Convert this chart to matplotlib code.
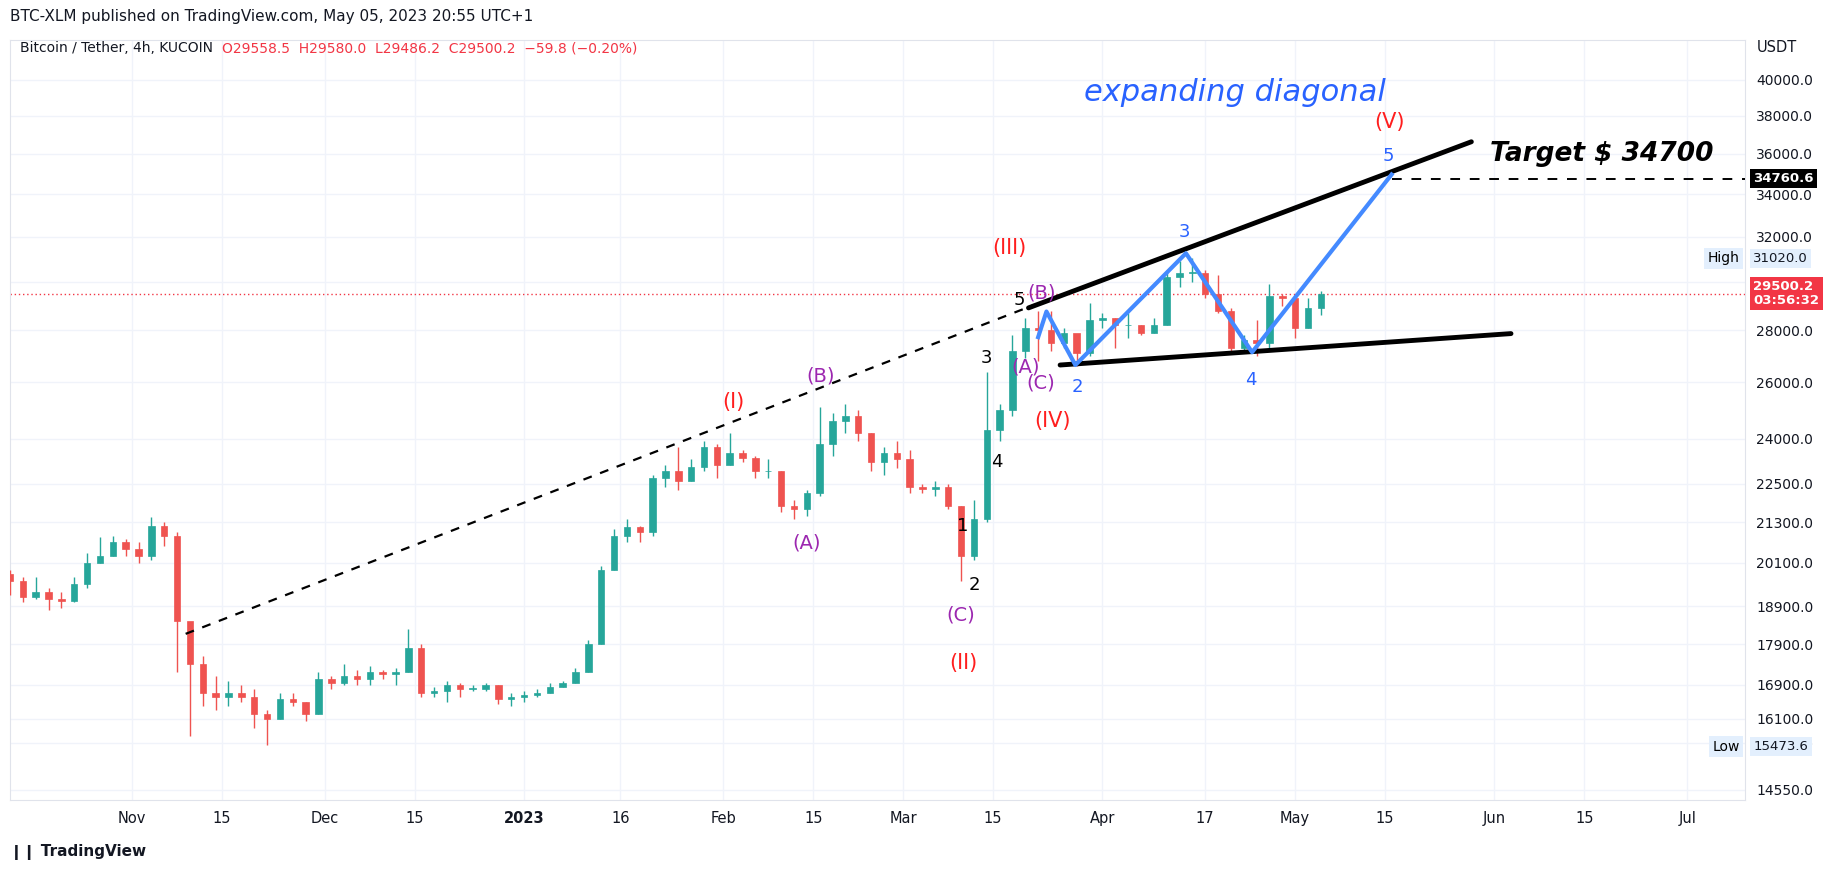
import numpy as np
import matplotlib
matplotlib.use("Agg")
import matplotlib.pyplot as plt
import matplotlib.dates as mdates
from datetime import datetime, timedelta

# ---------------- data ----------------
start_date = "2022-10-13"
step_days = 2
first_open = 19800
closes = [19600,19150,19300,19100,19050,19500,20100,20300,20700,20500,
          20300,21200,20900,18500,17400,16700,16600,16700,16600,16200,
          16100,16550,16500,16200,17050,16950,17100,17050,17200,17150,
          17200,17800,16700,16750,16900,16800,16800,16900,16550,16600,
          16650,16700,16850,16950,17200,17900,19900,20900,21150,21000,
          22700,22900,22600,23050,23700,23100,23500,23350,22900,22900,
          21800,21700,22200,23800,24600,24800,24200,23200,23500,23300,
          22400,22350,22400,21800,20300,21400,24300,25000,27200,28100,
          28000,27500,27900,27100,28400,28500,28200,28200,27900,28200,
          30200,30400,30400,29500,28800,27300,27600,27500,29400,29300,
          28100,28900,29500]
highs = [19900,19700,19700,19400,19300,19700,20400,20850,20900,20800,
         20700,21450,21300,21000,18150,17600,17100,17000,16900,16800,
         16300,16700,16700,16500,17200,17100,17400,17250,17350,17250,
         17300,18300,17900,16850,17000,16950,16900,16950,16900,16700,
         16750,16800,16950,17000,17300,18000,20000,21100,21400,21200,
         22800,23100,23700,23300,23900,23800,24200,23600,23400,23300,
         22900,22000,22300,25100,24900,25200,25000,24200,23700,23900,
         23600,22500,22600,22500,21800,22000,26400,25200,27800,28500,
         28800,28800,28100,27700,29100,28700,28500,28700,28200,28500,
         30500,30900,31020,30500,30300,28900,27800,28400,29900,29500,
         29500,29300,29600]
lows = [19200,19000,19100,18800,18850,19000,19400,20100,20300,20300,
        20100,20200,20600,17200,15700,16400,16300,16400,16500,15900,
        15500,16100,16400,16050,16200,16800,16900,16900,16900,17050,
        16900,17200,16600,16600,16500,16600,16750,16750,16450,16400,
        16500,16600,16700,16850,16950,17200,17900,19900,20700,20700,
        20900,22400,22300,22600,22900,22700,23100,23200,22700,22700,
        21600,21400,21500,22100,23400,24200,23900,22900,22800,23000,
        22200,22200,22100,21700,19600,20200,21300,23900,24800,26900,
        26800,27200,27300,26600,27000,28100,27300,27700,27800,27900,
        28200,29800,30000,29300,28700,27100,27200,27000,27200,29000,
        27700,28100,28600]

last_price = 29500.2
target_price = 34760.6
high_price = 31020.0
low_price = 15473.6

ytick_vals = [14550,15550,16100,16900,17900,18900,20100,21300,22500,24000,
              26000,28000,30000,32000,34000,36000,38000,40000]

# drawings: (date, price)
dashed_line = [("2022-11-09 08:00", 18170), ("2023-03-21 12:00", 29045)]
upper_line = [("2023-03-20 12:00", 28910), ("2023-05-28 10:00", 36630)]
lower_line = [("2023-03-25 10:00", 26650), ("2023-06-03 14:00", 27870)]
blue_path = [("2023-03-22 00:00", 27730), ("2023-03-23 07:00", 28760),
             ("2023-03-27 19:00", 26650), ("2023-04-14 00:00", 31250),
             ("2023-04-24 07:00", 27140), ("2023-05-16 00:00", 34960)]

RED, PUR, BLU = "#ff1e1e", "#9c27b0", "#2962ff"
labels = [  # text, date, price, color, size
    ("(V)", "2023-05-15 17:00", 37680, RED, 15),
    ("5", "2023-05-15 12:00", 35880, BLU, 13),
    ("3", "2023-04-13 19:00", 32190, BLU, 13),
    ("2", "2023-03-28 02:00", 25830, BLU, 13),
    ("4", "2023-04-24 02:00", 26090, BLU, 13),
    ("(III)", "2023-03-17 12:00", 31500, RED, 15),
    ("5", "2023-03-19 02:00", 29240, "black", 13),
    ("(B)", "2023-03-22 12:00", 29530, PUR, 14),
    ("3", "2023-03-13 21:00", 26900, "black", 13),
    ("(A)", "2023-03-20 00:00", 26580, PUR, 14),
    ("(C)", "2023-03-22 10:00", 25960, PUR, 14),
    ("(IV)", "2023-03-24 05:00", 24610, RED, 15),
    ("4", "2023-03-15 12:00", 23200, "black", 13),
    ("1", "2023-03-10 05:00", 21200, "black", 13),
    ("2", "2023-03-12 00:00", 19490, "black", 13),
    ("(C)", "2023-03-09 22:00", 18670, PUR, 14),
    ("(II)", "2023-03-10 10:00", 17440, RED, 15),
    ("(I)", "2023-02-02 14:00", 25270, RED, 15),
    ("(B)", "2023-02-16 05:00", 26250, PUR, 14),
    ("(A)", "2023-02-13 22:00", 20680, PUR, 14),
]

# ---------------- figure ----------------
W, H = 1823, 872
fig = plt.figure(figsize=(W / 100, H / 100), dpi=100)
fig.patch.set_facecolor("white")
ax = fig.add_axes([10 / W, 1 - 800 / H, 1735 / W, 760 / H])
ax.set_yscale("log")

d0 = datetime.strptime(start_date, "%Y-%m-%d")
dates = [d0 + timedelta(days=step_days * i) for i in range(len(closes))]
opens = [first_open] + closes[:-1]
up_c, dn_c = "#26a69a", "#ef5350"
for dt, o, h, l, c in zip(dates, opens, highs, lows, closes):
    x = mdates.date2num(dt)
    col = up_c if c >= o else dn_c
    ax.vlines(x, l, h, color=col, lw=1.0, zorder=3)
    ax.bar(x, abs(c - o) if abs(c - o) > 20 else 20, bottom=min(o, c),
           width=1.0, color=col, edgecolor=col, lw=0.5, zorder=4)

def P(pts):
    return [mdates.date2num(datetime.strptime(d, "%Y-%m-%d %H:%M")) for d, _ in pts], [p for _, p in pts]

x, y = P(dashed_line)
ax.plot(x, y, color="black", lw=1.6, ls=(0, (4, 4)), zorder=5)
x, y = P(upper_line)
ax.plot(x, y, color="black", lw=3.5, zorder=6, solid_capstyle="round")
x, y = P(lower_line)
ax.plot(x, y, color="black", lw=3.5, zorder=6, solid_capstyle="round")
x, y = P(blue_path)
ax.plot(x, y, color="#448aff", lw=3, zorder=7, solid_joinstyle="round")
ax.plot([x[-1], mdates.date2num(datetime(2023, 7, 10))], [target_price, target_price],
        color="black", lw=1.4, ls=(0, (5, 5)), zorder=5)

for t, d, p, c, s in labels:
    ax.text(mdates.date2num(datetime.strptime(d, "%Y-%m-%d %H:%M")), p, t, color=c,
            fontsize=s, ha="center", va="center", zorder=9)

ax.text(mdates.date2num(datetime(2023, 4, 21, 14)), 39270, "expanding diagonal",
        color=BLU, fontsize=22, style="italic", ha="center", va="center")
ax.text(mdates.date2num(datetime(2023, 6, 17, 17)), 36020, "Target $ 34700",
        color="black", fontsize=19, style="italic", weight="bold", ha="center", va="center")

ax.axhline(last_price, color="#f23645", lw=1, ls=(0, (1, 2)), zorder=2)

ax.set_xlim(mdates.date2num(datetime(2022, 10, 13)), mdates.date2num(datetime(2023, 7, 10)))
ax.set_ylim(14340, 42345)

ax.yaxis.tick_right()
ax.set_yticks(ytick_vals)
ax.set_yticklabels([f"{v:.1f}" for v in ytick_vals])
ax.yaxis.set_minor_locator(matplotlib.ticker.NullLocator())
xt = [datetime(2022, 11, 1), datetime(2022, 11, 15), datetime(2022, 12, 1), datetime(2022, 12, 15),
      datetime(2023, 1, 1), datetime(2023, 1, 16), datetime(2023, 2, 1), datetime(2023, 2, 15),
      datetime(2023, 3, 1), datetime(2023, 3, 15), datetime(2023, 4, 1), datetime(2023, 4, 17),
      datetime(2023, 5, 1), datetime(2023, 5, 15), datetime(2023, 6, 1), datetime(2023, 6, 15),
      datetime(2023, 7, 1)]
xl = ["Nov", "15", "Dec", "15", "2023", "16", "Feb", "15", "Mar", "15", "Apr", "17", "May",
      "15", "Jun", "15", "Jul"]
ax.set_xticks([mdates.date2num(d) for d in xt])
ax.set_xticklabels(xl)
for lab in ax.get_xticklabels():
    if lab.get_text() == "2023":
        lab.set_fontweight("bold")
ax.tick_params(length=0, labelsize=10.5, colors="#131722", pad=8)
ax.tick_params(axis="y", pad=8, labelsize=10)
ax.grid(True, color="#f0f3fa", lw=1)
ax.set_axisbelow(True)
for s in ax.spines.values():
    s.set_color("#e0e3eb")

# axis price boxes
def box(price, text, fc, tc, bold=False):
    ax.annotate(text, xy=(1.0, price), xycoords=("axes fraction", "data"),
                xytext=(6, 0), textcoords="offset points", ha="left", va="center",
                fontsize=9.5, color=tc, weight="bold" if bold else "normal",
                linespacing=1.1,
                bbox=dict(boxstyle="square,pad=0.25", fc=fc, ec="none"), zorder=10,
                annotation_clip=False)

box(target_price, "34760.6", "black", "white", True)
box(high_price, "31020.0", "#e3effd", "#131722")
box(low_price, "15473.6", "#e3effd", "#131722")
box(last_price, "29500.2\n03:56:32", "#f23645", "white", True)
ax.text(0.997, high_price, "High", transform=ax.get_yaxis_transform(), ha="right", va="center",
        fontsize=10, bbox=dict(boxstyle="square,pad=0.25", fc="#e3effd", ec="none"))
ax.text(0.997, low_price, "Low", transform=ax.get_yaxis_transform(), ha="right", va="center",
        fontsize=10, bbox=dict(boxstyle="square,pad=0.25", fc="#e3effd", ec="none"))

fig.text(1757 / W, 1 - 47 / H, "USDT", fontsize=10.5, color="#131722", va="center")
fig.text(10 / W, 1 - 16 / H, "BTC-XLM published on TradingView.com, May 05, 2023 20:55 UTC+1",
         fontsize=11, color="#131722", va="center")
fig.text(20 / W, 1 - 48 / H, "Bitcoin / Tether, 4h, KUCOIN", fontsize=10, color="#131722", va="center")
fig.text(222 / W, 1 - 48 / H, "O29558.5  H29580.0  L29486.2  C29500.2  \u221259.8 (\u22120.20%)",
         fontsize=10, color="#f23645", va="center")
fig.text(10 / W, 1 - 852 / H, "\u2759\u2759 TradingView", fontsize=11, color="#131722",
         va="center", weight="bold")

fig.savefig("out.png", dpi=100)
